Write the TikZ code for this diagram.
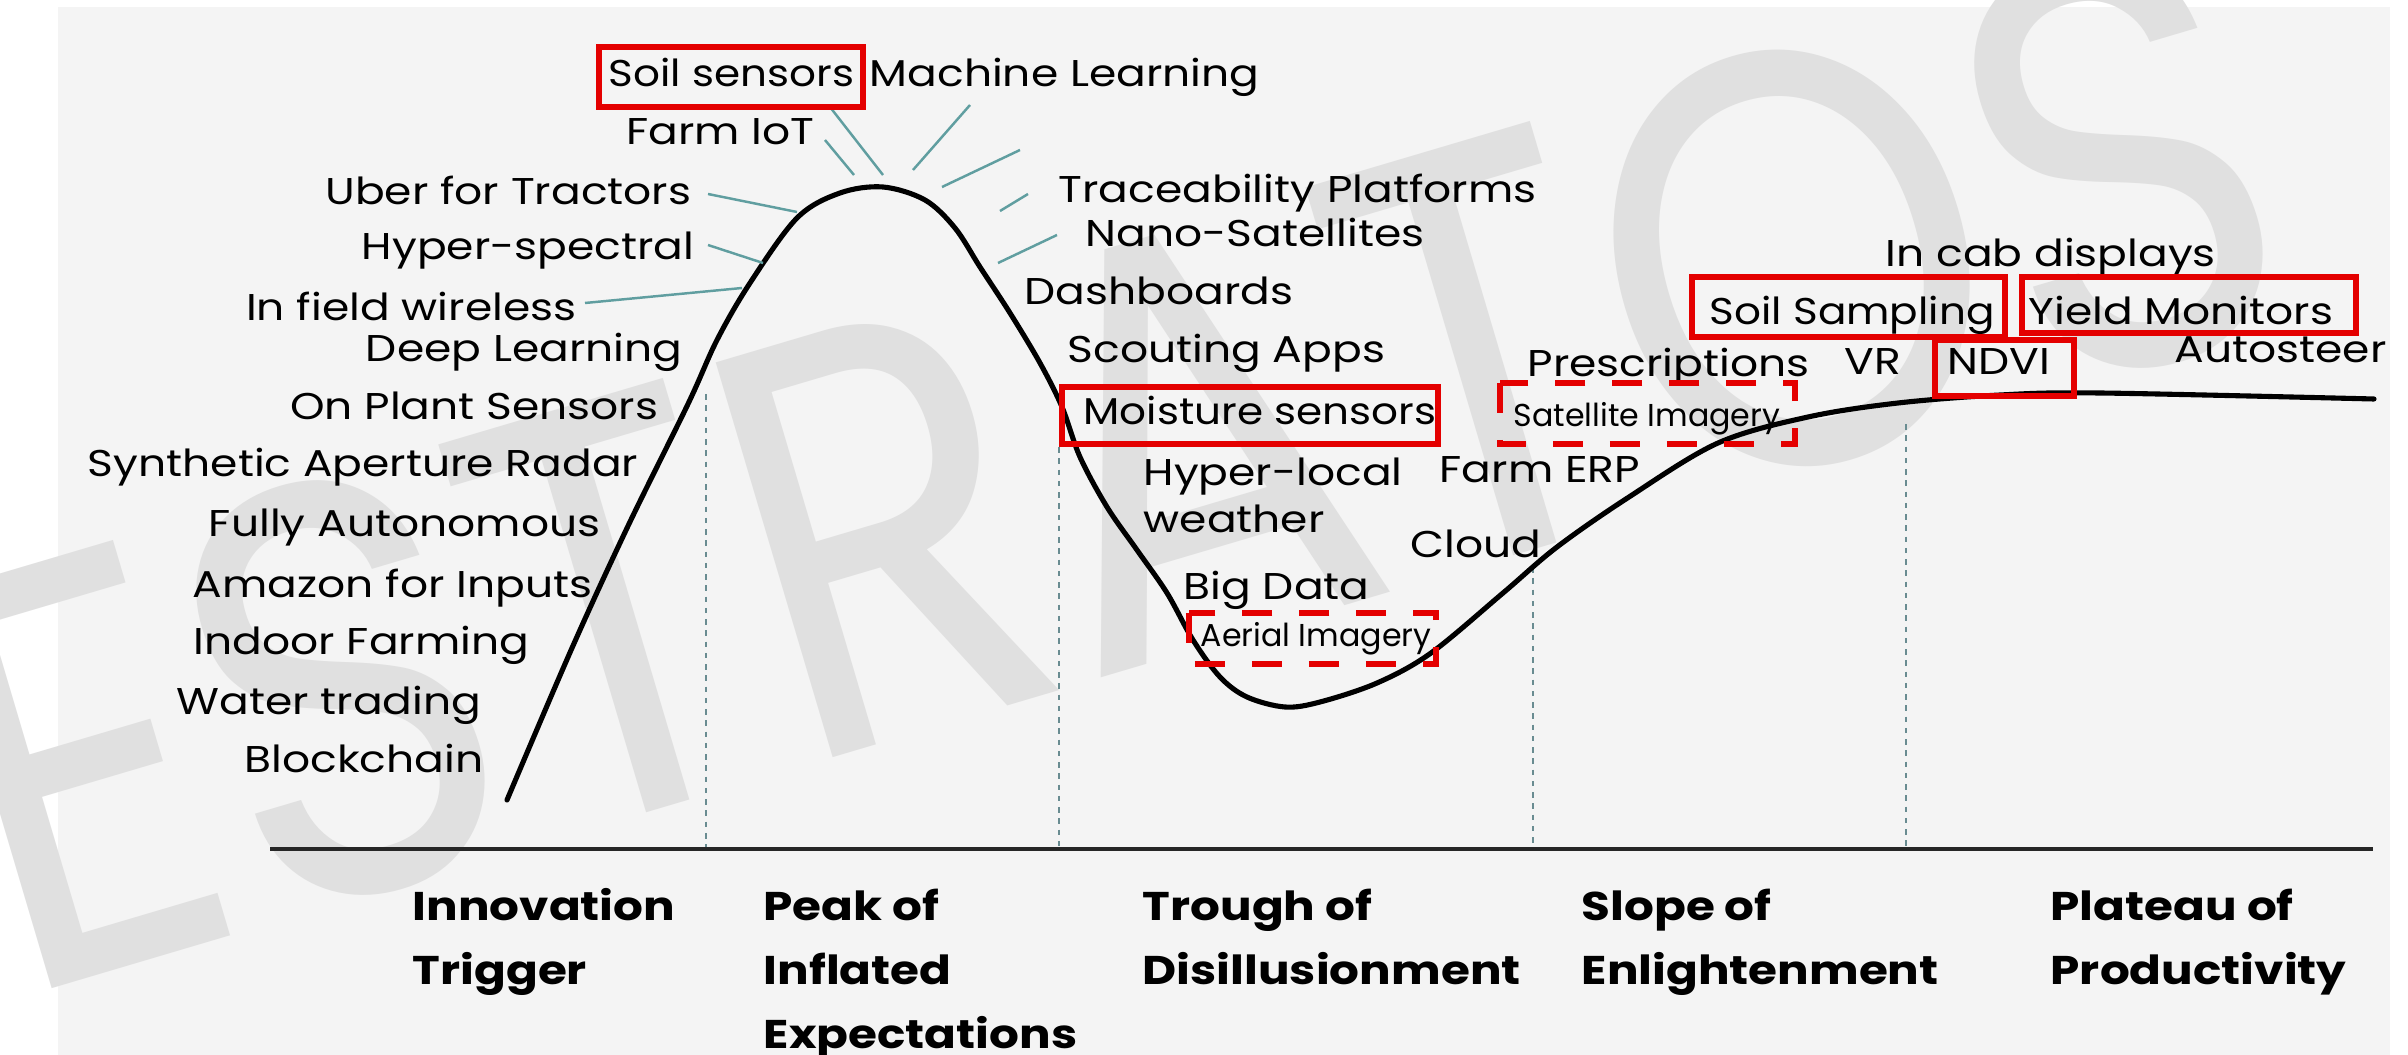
\documentclass[tikz,border=0pt]{standalone}
\usepackage{fontspec}
\setmainfont{Poppins}[FakeStretch=1.18]
\newfontfamily\boxedfont{Poppins}[FakeStretch=1.13]
\newfontfamily\labelbold{Poppins}[FakeStretch=1.17]
\newfontfamily\tagfont{Poppins}
\newfontfamily\markfont{Poppins}[FakeStretch=0.84]
\definecolor{bgpanel}{RGB}{244,244,244}
\definecolor{hlred}{RGB}{228,0,0}
\definecolor{leader}{RGB}{96,158,160}
\definecolor{guide}{RGB}{105,140,145}
\definecolor{wmark}{RGB}{224,224,224}
\begin{document}
\begin{tikzpicture}[x=0.01cm,y=-0.01cm,
  lbl/.style={inner sep=0pt, font=\fontsize{10.6}{12}\selectfont},
  lblE/.style={lbl, anchor=base east},
  lblW/.style={lbl, anchor=base west},
  boxed/.style={inner sep=0pt, anchor=base west, font=\boxedfont\fontsize{10.6}{12}\selectfont},
  small/.style={inner sep=0pt, anchor=base west, font=\tagfont\fontsize{9}{11}\selectfont},
  phase/.style={inner sep=0pt, anchor=base west, font=\labelbold\fontsize{11.4}{13}\selectfont\bfseries},
  hlbox/.style={draw=hlred, line width=1.9pt},
  hldash/.style={draw=hlred, line width=1.9pt, dash pattern=on 8.5pt off 7.7pt},
  leaderline/.style={draw=leader, line width=0.7pt},
  guideline/.style={draw=guide, line width=0.45pt, dash pattern=on 1.6pt off 1.6pt},
  hype/.style={draw=black, line width=1.45pt, line cap=round},
]
\useasboundingbox (0,0) rectangle (2408,1055);
\fill[white] (0,0) rectangle (2408,1055);
\fill[bgpanel] (58,7) rectangle (2390,1055);

% faint company watermark behind the chart
\begin{scope}
  \clip (0,0) rectangle (2390,1055);
  \node[inner sep=0pt, anchor=base west, rotate=16.5, text=wmark,
        font=\markfont\fontsize{168}{168}\selectfont] (wm) at (15,1000) {ESTRATOS};
\end{scope}

% phase separators and time axis
\coordinate (g1t) at (706,394);  \coordinate (g1b) at (706,849);
\coordinate (g2t) at (1059,447); \coordinate (g2b) at (1059,849);
\coordinate (g3t) at (1533,567); \coordinate (g3b) at (1533,849);
\coordinate (g4t) at (1906,424); \coordinate (g4b) at (1906,849);
\draw[guideline] (g1t) -- (g1b);
\draw[guideline] (g2t) -- (g2b);
\draw[guideline] (g3t) -- (g3b);
\draw[guideline] (g4t) -- (g4b);
\coordinate (axl) at (270,849); \coordinate (axr) at (2373,849);
\draw[line width=1.1pt, black!85] (axl) -- (axr);

% hype curve
\draw[hype] plot[smooth, tension=0.55] coordinates {
  (507,800) (572,648) (628,526) (688,404) (717,340) (750,283) (797,218)
  (840,193) (883,187) (925,200) (955,228) (980,267) (1010,313) (1040,363)
  (1062,407) (1080,457) (1107,507) (1137,550) (1167,593) (1193,640)
  (1220,677) (1247,697) (1285,707) (1320,702) (1377,683) (1431,653)
  (1503,593) (1557,547) (1629,497) (1718,443) (1808,417) (1898,403)
  (2000,395) (2100,393) (2374,399)};

% leader lines around the peak
\coordinate (la1) at (830,107);  \coordinate (lb1) at (883,175);
\coordinate (la2) at (825,140);  \coordinate (lb2) at (854,175);
\coordinate (la3) at (970,105);  \coordinate (lb3) at (913,170);
\coordinate (la4) at (1020,150); \coordinate (lb4) at (942,187);
\coordinate (la5) at (1028,194); \coordinate (lb5) at (1000,211);
\coordinate (la6) at (1057,235); \coordinate (lb6) at (998,263);
\coordinate (la7) at (708,194);  \coordinate (lb7) at (797,212);
\coordinate (la8) at (708,245);  \coordinate (lb8) at (763,263);
\coordinate (la9) at (585,303);  \coordinate (lb9) at (742,288);
\foreach \i in {1,...,9} \draw[leaderline] (la\i) -- (lb\i);

% technologies on the rising slope
\node[lblE] (farmiot) at (815,145) {Farm IoT};
\node[lblE] (uber)    at (692,205) {Uber for Tractors};
\node[lblE] (hyper)   at (695,260) {Hyper-spectral};
\node[lblE] (infield) at (577,321) {In field wireless};
\node[lblE] (deep)    at (683,362) {Deep Learning};
\node[lblE] (onplant) at (659,420) {On Plant Sensors};
\node[lblE] (sar)     at (639,477) {Synthetic Aperture Radar};
\node[lblE] (fully)   at (601,537) {Fully Autonomous};
\node[lblE] (amazon)  at (593,597) {Amazon for Inputs};
\node[lblE] (indoor)  at (530,655) {Indoor Farming};
\node[lblE] (water)   at (482,715) {Water trading};
\node[lblE] (block)   at (484,773) {Blockchain};

% around the peak
\node[boxed] (soil) at (608,87) {Soil sensors};
\node[lblW] (ml)   at (869,87) {Machine Learning};

% falling slope and trough
\node[lblW] (trace)   at (1058,203) {Traceability Platforms};
\node[lblW] (nano)    at (1085,247) {Nano-Satellites};
\node[lblW] (dash)    at (1024,305) {Dashboards};
\node[lblW] (scout)   at (1067,363) {Scouting Apps};
\node[boxed] (moist)  at (1083,425) {Moisture sensors};
\node[lblW] (hlocal)  at (1143,486) {Hyper-local};
\node[lblW] (weather) at (1143,533) {weather};
\node[lblW] (farmerp) at (1439,483) {Farm ERP};
\node[lblW] (cloud)   at (1410,558) {Cloud};
\node[lblW] (bigdata) at (1183,600) {Big Data};
\node[small] (aerial) at (1200,647) {Aerial Imagery};

% slope and plateau
\node[lblW] (presc)   at (1527,377) {Prescriptions};
\node[small] (sat)    at (1513,427) {Satellite Imagery};
\node[lblW] (vr)      at (1844,375) {VR};
\node[lblW] (ndvi)    at (1947,375) {NDVI};
\node[lblW] (incab)   at (1885,267) {In cab displays};
\node[boxed] (soilsmp) at (1709,325) {Soil Sampling};
\node[lblW] (yield)   at (2028,325) {Yield Monitors};
\node[lblW] (auto)    at (2174,363) {Autosteer};

% highlight frames
\draw[hlbox] (599,47) rectangle (863,107);
\draw[hlbox] (1062,387) rectangle (1438,444);
\draw[hlbox] (1692,277) rectangle (2005,337);
\draw[hlbox] (2022,277) rectangle (2356,333);
\draw[hlbox] (1935,340) rectangle (2074,396);
\draw[hldash] (1189,613) rectangle (1436,664);
\draw[hldash] (1500,383) rectangle (1795,444);

% phase names
\node[phase] (p1a) at (412,920)  {Innovation};
\node[phase] (p1b) at (412,984)  {Trigger};
\node[phase] (p2a) at (763,920)  {Peak of};
\node[phase] (p2b) at (763,984)  {Inflated};
\node[phase] (p2c) at (763,1048) {Expectations};
\node[phase] (p3a) at (1142,920) {Trough of};
\node[phase] (p3b) at (1142,984) {Disillusionment};
\node[phase] (p4a) at (1581,920) {Slope of};
\node[phase] (p4b) at (1581,984) {Enlightenment};
\node[phase] (p5a) at (2050,920) {Plateau of};
\node[phase] (p5b) at (2050,984) {Productivity};
\end{tikzpicture}
\end{document}
